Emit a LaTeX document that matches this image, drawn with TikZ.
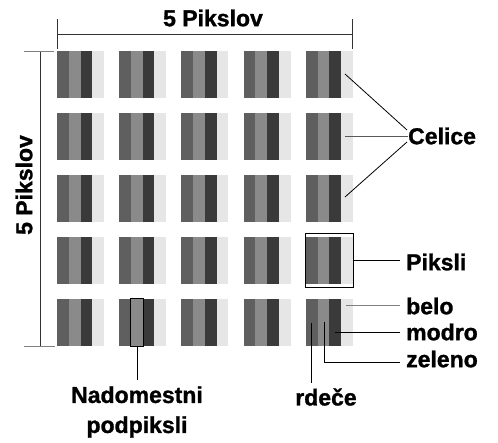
\documentclass[tikz,border=0pt]{standalone}
\usepackage{fontspec}
\setmainfont{Liberation Sans}[BoldFont={Liberation Sans Bold},BoldFeatures={FakeBold=1.2}]
\definecolor{sA}{HTML}{5F5F5F}
\definecolor{sB}{HTML}{8A8A8A}
\definecolor{sC}{HTML}{3A3A3A}
\definecolor{sD}{HTML}{E6E6E6}
\definecolor{lineg}{HTML}{333333}
\begin{document}
\begin{tikzpicture}[x=1pt,y=-1pt,
  lbl/.style={font=\bfseries\fontsize{23}{28}\selectfont, inner sep=0pt, text=black},
  pix/.style={minimum width=47pt, minimum height=47pt, inner sep=0pt},
  conn/.style={draw=black, line width=0.8pt},
  dim/.style={draw=lineg, line width=0.9pt},
  hilite/.style={draw=black, line width=0.9pt}]
\useasboundingbox (0,0) rectangle (498,443);
\foreach \i in {0,...,4} {
  \foreach \j in {0,...,4} {
    \pgfmathsetmacro\x{57+62.2*\i}
    \pgfmathsetmacro\y{51+62*\j}
    \fill[sA] (\x,\y) rectangle ++(11.8,47);
    \fill[sB] (\x+11.8,\y) rectangle ++(11.8,47);
    \fill[sC] (\x+23.6,\y) rectangle ++(11.6,47);
    \fill[sD] (\x+35.2,\y) rectangle ++(11.8,47);
    \node[pix] (p\i\j) at (\x+23.5,\y+23.5) {};
  }
}
% horizontal dimension
\coordinate (hL) at (57,34);
\coordinate (hR) at (352.8,34);
\draw[dim] (hL) -- (hR);
\draw[dim] ([yshift=15pt]hL) -- ([yshift=-15pt]hL);
\draw[dim] ([yshift=15pt]hR) -- ([yshift=-15pt]hR);
\node[lbl] (top) at (213,18) {5 Pikslov};
% vertical dimension
\coordinate (vT) at (40,51);
\coordinate (vB) at (40,346.5);
\draw[dim] (vT) -- (vB);
\draw[dim,draw=gray] (24,51) -- (54,51);
\draw[dim,draw=gray] (24,346.5) -- (55,346.5);
\node[lbl, rotate=90] (left) at (24,185) {5 Pikslov};
% Celice
\node[lbl, anchor=west] (celice) at (408,136) {Celice};
\coordinate (c1) at (345,74);
\coordinate (c2) at (345,136);
\coordinate (c3) at (345,197);
\draw[conn] (c1) -- (407,130);
\draw[conn,draw=gray!70!black] (c2) -- (celice.west);
\draw[conn] (c3) -- (407,142);
% Piksli
\draw[hilite] (305.5,233) rectangle (353,287);
\coordinate (pk) at (353,260);
\node[lbl, anchor=west] (piksli) at (406,262) {Piksli};
\draw[conn] (pk) -- (400,260);
% belo / modro / zeleno
\node[lbl, anchor=west] (belo) at (406,306) {belo};
\node[lbl, anchor=west] (modro) at (406,332) {modro};
\node[lbl, anchor=west] (zeleno) at (406,359) {zeleno};
\coordinate (bw) at (346,305);
\coordinate (mb) at (335,332);
\coordinate (zg) at (324,322);
\draw[conn,draw=gray] (bw) -- (400,305);
\draw[conn] (mb) -- (400,332);
\draw[conn] (zg) -- (324,362.3) -- (400,362.3);
% rdece
\node[lbl] (rdece) at (326,397) {rdeče};
\coordinate (rd) at (311.7,323);
\draw[conn] (rd) -- (311.7,382.7);
% Nadomestni podpiksli
\draw[hilite] (130.8,298) rectangle (143.3,346.7);
\coordinate (np) at (137,346.7);
\node[lbl, align=center, font=\bfseries\fontsize{23}{30}\selectfont] (nad) at (137,412) {Nadomestni\\podpiksli};
\draw[conn] (np) -- (137,380);
\end{tikzpicture}
\end{document}
